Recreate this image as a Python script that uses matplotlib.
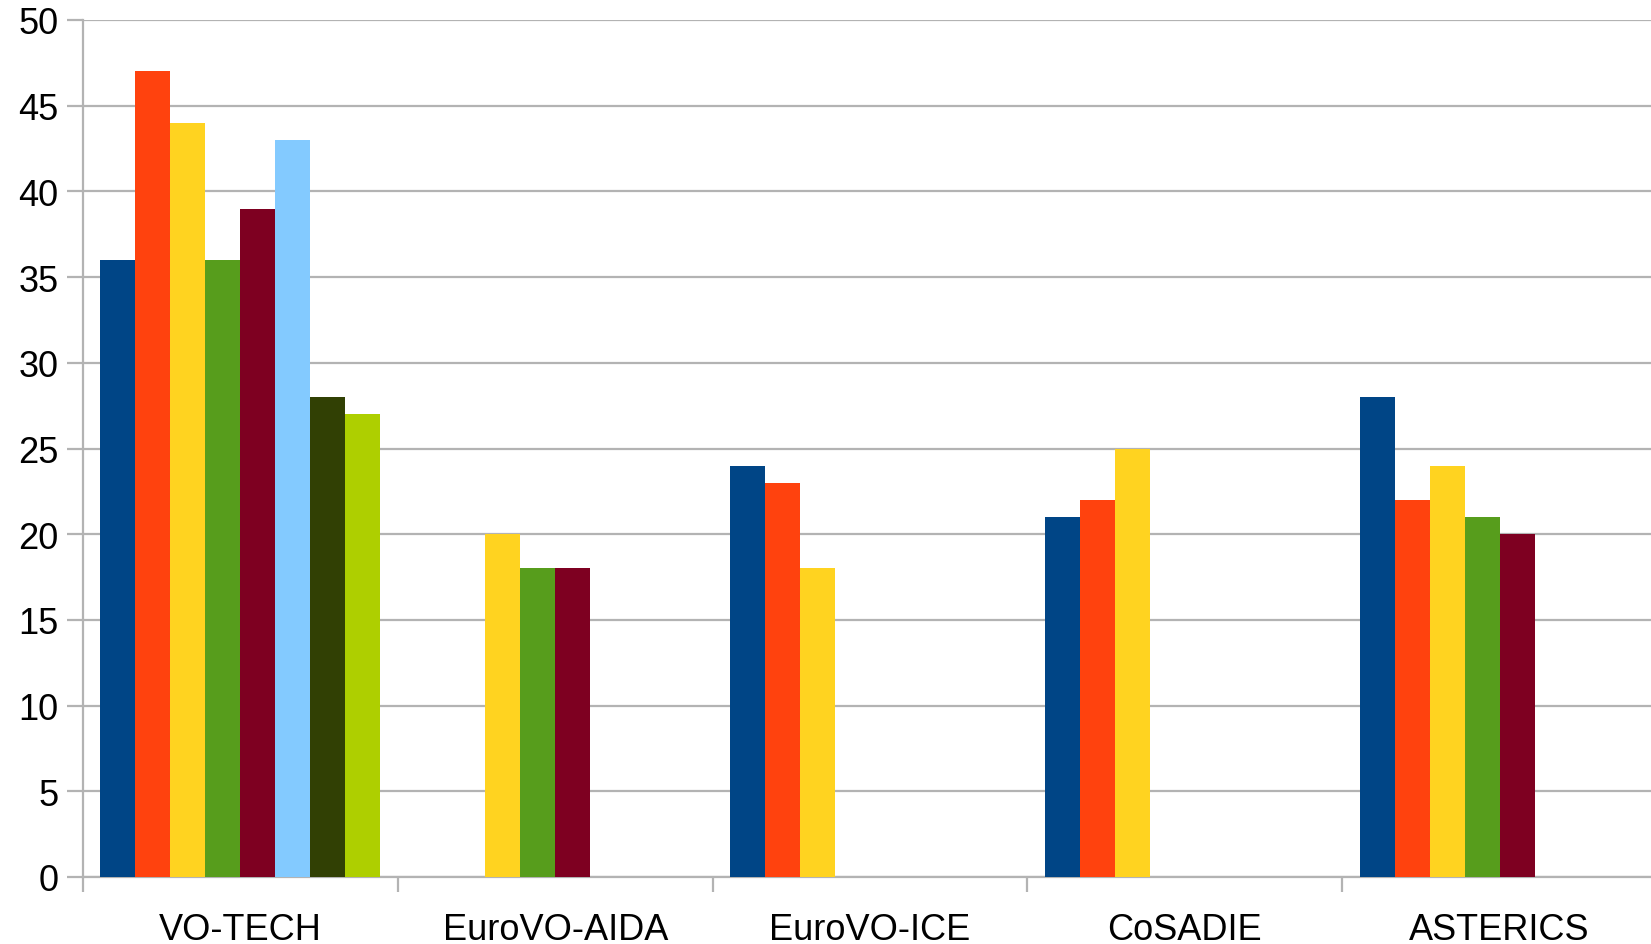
import matplotlib
matplotlib.use("Agg")
import matplotlib.pyplot as plt
import numpy as np

################################################################
##### chart data

categories = ["VO-TECH", "EuroVO-AIDA", "EuroVO-ICE", "CoSADIE", "ASTERICS"]

# one list per series, 0 = no bar
series_1 = [36, 0, 24, 21, 28]
series_2 = [47, 0, 23, 22, 22]
series_3 = [44, 20, 18, 25, 24]
series_4 = [36, 18, 0, 0, 21]
series_5 = [39, 18, 0, 0, 20]
series_6 = [43, 0, 0, 0, 0]
series_7 = [28, 0, 0, 0, 0]
series_8 = [27, 0, 0, 0, 0]

colors = ["#004586", "#ff420e", "#ffd320", "#579d1c",
          "#7e0021", "#83caff", "#314004", "#aecf00"]

y_ticks = [0, 5, 10, 15, 20, 25, 30, 35, 40, 45, 50]

################################################################

plt.rcParams["font.family"] = ["Liberation Sans", "DejaVu Sans"]

W, H = 1651, 945
fig = plt.figure(figsize=(W / 100, H / 100), dpi=100)
# plot area runs a little past the right edge, as in the original export
ax = fig.add_axes([83 / W, (H - 878) / H, 1574 / W, (878 - 21) / H])

all_series = [series_1, series_2, series_3, series_4,
              series_5, series_6, series_7, series_8]
n = len(all_series)
bar_w = 1.0 / (n + 1)
centers = np.arange(len(categories)) + 0.5

for i, (vals, col) in enumerate(zip(all_series, colors)):
    # half a bar of space at each side of the group
    xs = centers - 0.5 + (i + 1) * bar_w
    ax.bar(xs, vals, width=bar_w, color=col, zorder=3, linewidth=0)

grid_col = "#b3b3b3"
ax.set_xlim(0, len(categories))
ax.set_ylim(0, 50)
ax.set_yticks(y_ticks)
ax.yaxis.grid(True, color=grid_col, linewidth=1.6, zorder=0)
ax.tick_params(axis="y", length=11.5, width=1.6, color=grid_col,
               labelsize=26, pad=6, labelcolor="black")

# category boundaries as major ticks, labels on minor ticks
ax.set_xticks(np.arange(len(categories) + 1))
ax.set_xticklabels([])
ax.set_xticks(centers, minor=True)
ax.set_xticklabels(categories, minor=True)
ax.tick_params(axis="x", which="major", length=11, width=1.6, color=grid_col)
ax.tick_params(axis="x", which="minor", length=0, labelsize=26, pad=25)

for side in ["top", "right"]:
    ax.spines[side].set_visible(False)
for side in ["left", "bottom"]:
    ax.spines[side].set_color(grid_col)
    ax.spines[side].set_linewidth(1.6)

fig.savefig("out.png", dpi=100)
